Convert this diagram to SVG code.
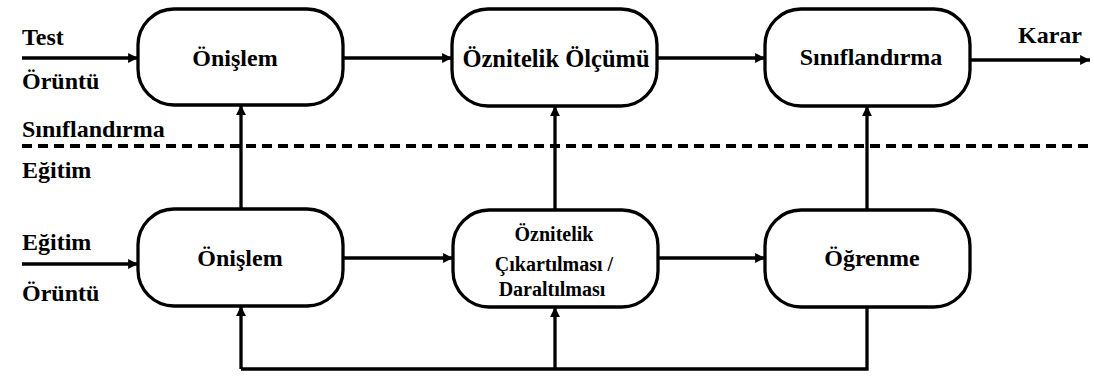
<svg xmlns="http://www.w3.org/2000/svg" width="1094" height="376" viewBox="0 0 1094 376">
<style>
.node{fill:#fff;stroke:#000;stroke-width:3.3}
text{font-family:'Liberation Serif','Times New Roman',serif;font-weight:bold;fill:#000}
.n{font-size:24px;text-anchor:middle}
.s{font-size:20px;text-anchor:middle}
.l{font-size:24px}
.c{stroke:#000;stroke-width:3.3;fill:none}
</style>
<defs>
<marker id="ah" viewBox="0 0 10 10" refX="10" refY="5" markerWidth="3.2" markerHeight="3" markerUnits="strokeWidth" orient="auto">
<path d="M0,0 L10,5 L0,10 z" fill="#000"/>
</marker>
</defs>
<rect width="1094" height="376" fill="#fff"/>
<g id="connectors">
<line class="c" x1="22" y1="58" x2="138" y2="58" marker-end="url(#ah)"/>
<line class="c" x1="343" y1="58" x2="452" y2="58" marker-end="url(#ah)"/>
<line class="c" x1="657" y1="58" x2="765" y2="58" marker-end="url(#ah)"/>
<line class="c" x1="970" y1="60" x2="1090" y2="60" marker-end="url(#ah)"/>
<line class="c" x1="241" y1="209" x2="241" y2="105" marker-end="url(#ah)"/>
<line class="c" x1="555" y1="210" x2="555" y2="106" marker-end="url(#ah)"/>
<line class="c" x1="867" y1="210" x2="867" y2="106" marker-end="url(#ah)"/>
<line class="c" x1="22" y1="264" x2="138" y2="264" marker-end="url(#ah)"/>
<line class="c" x1="343" y1="258" x2="453" y2="258" marker-end="url(#ah)"/>
<line class="c" x1="658" y1="258" x2="765" y2="258" marker-end="url(#ah)"/>
<polyline class="c" points="867,308 867,369 241,369"/>
<line class="c" x1="241" y1="369" x2="241" y2="306" marker-end="url(#ah)"/>
<line class="c" x1="555" y1="369" x2="555" y2="307" marker-end="url(#ah)"/>
<line x1="22" y1="146" x2="1094" y2="146" stroke="#000" stroke-width="4" stroke-dasharray="10 6"/>
</g>
<g id="labels">
<text class="l" x="22" y="45">Test</text>
<text class="l" x="22" y="89">Örüntü</text>
<text class="l" x="22" y="137">Sınıflandırma</text>
<text class="l" x="22" y="178">Eğitim</text>
<text class="l" x="22" y="250">Eğitim</text>
<text class="l" x="22" y="301">Örüntü</text>
<text class="l" x="1018" y="43">Karar</text>
</g>
<g id="n1">
<rect class="node" x="138" y="9" width="205" height="96" rx="36" ry="36"/>
<text class="n" x="235" y="66">Önişlem</text>
</g>
<g id="n2">
<rect class="node" x="452" y="9" width="205" height="97" rx="36" ry="36"/>
<text class="n" x="556" y="67" style="font-size:24.5px">Öznitelik Ölçümü</text>
</g>
<g id="n3">
<rect class="node" x="765" y="9" width="205" height="97" rx="36" ry="36"/>
<text class="n" x="871" y="65">Sınıflandırma</text>
</g>
<g id="n4">
<rect class="node" x="138" y="209" width="205" height="97" rx="36" ry="36"/>
<text class="n" x="240" y="266">Önişlem</text>
</g>
<g id="n5">
<rect class="node" x="453" y="210" width="205" height="97" rx="36" ry="36"/>
<text class="s" x="554" y="241">Öznitelik</text>
<text class="s" x="554" y="271">Çıkartılması /</text>
<text class="s" x="552" y="296">Daraltılması</text>
</g>
<g id="n6">
<rect class="node" x="765" y="210" width="205" height="97" rx="36" ry="36"/>
<text class="n" x="872" y="266">Öğrenme</text>
</g>
</svg>
